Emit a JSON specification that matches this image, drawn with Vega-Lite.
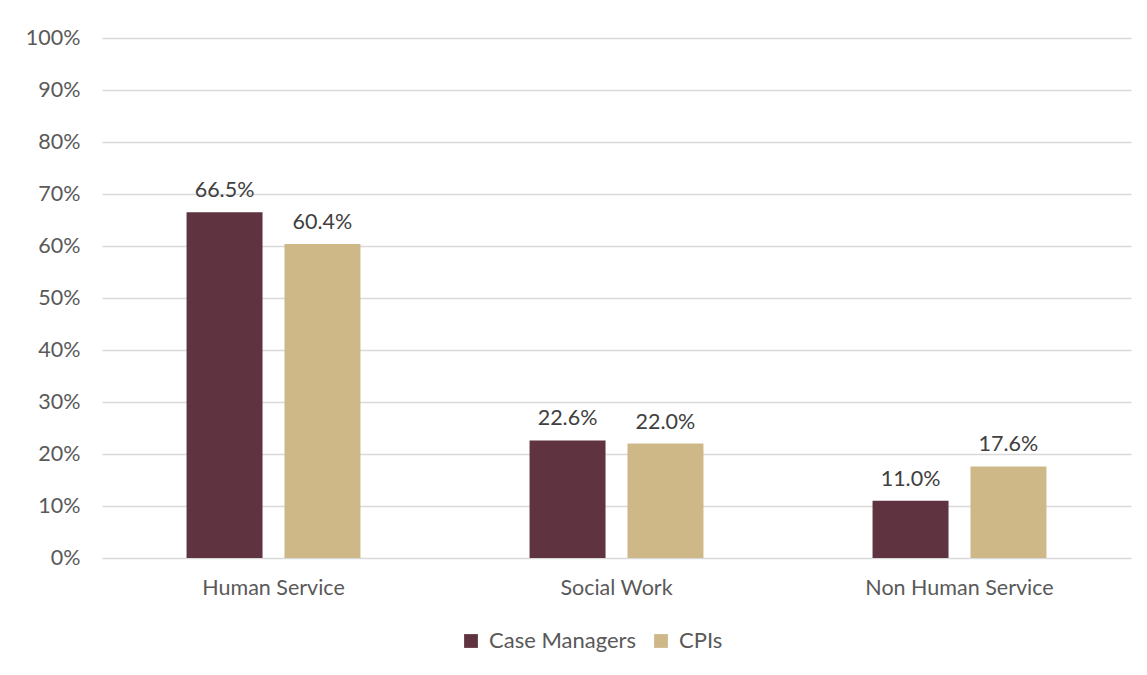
{
  "$schema": "https://vega.github.io/schema/vega-lite/v6.json",
  "width": 1029,
  "height": 520,
  "autosize": {"type": "none"},
  "padding": {"left": 102, "top": 38, "right": 16, "bottom": 117},
  "background": "white",
  "config": {
    "view": {"stroke": null},
    "font": "Lato",
    "axis": {"labelFont": "Lato", "labelColor": "#595959", "labelFontSize": 21.5},
    "legend": {"labelFont": "Lato", "labelColor": "#595959", "labelFontSize": 22}
  },
  "data": {
    "values": [
      {"field": "Human Service", "group": "Case Managers", "value": 0.665},
      {"field": "Human Service", "group": "CPIs", "value": 0.604},
      {"field": "Social Work", "group": "Case Managers", "value": 0.226},
      {"field": "Social Work", "group": "CPIs", "value": 0.220},
      {"field": "Non Human Service", "group": "Case Managers", "value": 0.110},
      {"field": "Non Human Service", "group": "CPIs", "value": 0.176}
    ]
  },
  "encoding": {
    "x": {
      "field": "field", "type": "nominal", "sort": null,
      "scale": {"paddingInner": 0.493, "paddingOuter": 0.2465},
      "axis": {"title": null, "labelAngle": 0, "labelLimit": 0, "domain": false, "ticks": false, "labelPadding": 19, "grid": false}
    },
    "xOffset": {
      "field": "group", "type": "nominal", "sort": ["Case Managers", "CPIs"],
      "scale": {"paddingInner": 0.224, "paddingOuter": 0}
    },
    "y": {
      "field": "value", "type": "quantitative",
      "scale": {"domain": [0, 1], "nice": false},
      "axis": {"title": null, "format": ".0%", "values": [0,0.1,0.2,0.3,0.4,0.5,0.6,0.7,0.8,0.9,1], "labelOverlap": false, "domain": false, "ticks": false, "labelPadding": 22, "gridColor": "#d9d9d9", "gridWidth": 1.3}
    }
  },
  "layer": [
    {
      "mark": {"type": "bar"},
      "encoding": {
        "color": {
          "field": "group", "type": "nominal", "sort": ["Case Managers", "CPIs"],
          "scale": {"domain": ["Case Managers", "CPIs"], "range": ["#5F3340", "#CEB888"]},
          "legend": {"title": null, "orient": "none", "legendX": 358, "legendY": 592, "direction": "horizontal", "symbolType": "square", "symbolSize": 190, "symbolStrokeWidth": 0, "columnPadding": 14, "labelOffset": 7, "labelLimit": 0}
        }
      }
    },
    {
      "mark": {"type": "text", "baseline": "bottom", "dy": -10, "fontSize": 21.5, "color": "#404040", "font": "Lato"},
      "encoding": {
        "text": {"field": "value", "type": "quantitative", "format": ".1%"}
      }
    }
  ]
}
